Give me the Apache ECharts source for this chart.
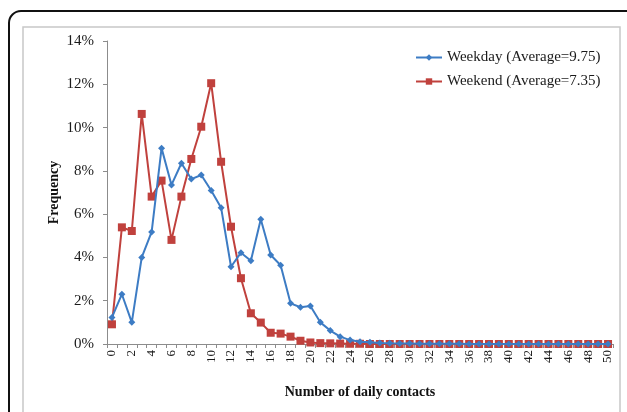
<!DOCTYPE html>
<html>
<head>
<meta charset="utf-8">
<script src="https://cdn.jsdelivr.net/npm/echarts@6/dist/echarts.min.js"></script>
<style>html,body{margin:0;padding:0;background:#fff;}#c{width:627px;height:412px;}</style>
</head>
<body>
<div id="c"></div>
<script>
const categories = Array.from({length: 51}, (_, i) => String(i));
const weekday = [1.23, 2.30, 1.00, 4.00, 5.18, 9.05, 7.35, 8.35, 7.62, 7.81, 7.09, 6.30, 3.57, 4.22, 3.85, 5.76, 4.11, 3.64, 1.88, 1.70, 1.76, 1.00, 0.62, 0.34, 0.18, 0.10, 0.08, 0.05, 0.03, 0.02, 0.02, 0.01, 0.01, 0.01, 0.01, 0.01, 0, 0, 0, 0, 0, 0, 0, 0, 0, 0, 0, 0, 0, 0, 0];
const weekend = [0.91, 5.39, 5.22, 10.63, 6.81, 7.55, 4.81, 6.81, 8.55, 10.04, 12.05, 8.42, 5.42, 3.04, 1.42, 0.99, 0.52, 0.48, 0.34, 0.15, 0.07, 0.04, 0.03, 0.02, 0.01, 0.01, 0, 0, 0, 0, 0, 0, 0, 0, 0, 0, 0, 0, 0, 0, 0, 0, 0, 0, 0, 0, 0, 0, 0, 0, 0];
const seriesNames = ['Weekday (Average=9.75)', 'Weekend (Average=7.35)'];

const serif = '"Liberation Serif", "Times New Roman", serif';
const chart = echarts.init(document.getElementById('c'));
chart.setOption({
  animation: false,
  backgroundColor: '#fff',
  graphic: [
    {type: 'rect', shape: {x: 9, y: 11, width: 700, height: 500, r: 12}, style: {fill: 'none', stroke: '#111', lineWidth: 2}, silent: true},
    {type: 'rect', shape: {x: 23, y: 27, width: 597, height: 500}, style: {fill: 'none', stroke: '#c8c8c8', lineWidth: 1.5}, silent: true}
  ],
  grid: {left: 107, right: 14, top: 41, bottom: 68},
  legend: {
    orient: 'vertical', left: 410, top: 45, itemGap: 9, itemWidth: 26, itemHeight: 8,
    textStyle: {fontFamily: serif, fontSize: 15, color: '#1a1a1a'},
    data: seriesNames
  },
  xAxis: {
    type: 'category', data: categories, boundaryGap: true,
    name: 'Number of daily contacts', nameLocation: 'middle', nameGap: 41, nameMoveOverlap: false,
    nameTextStyle: {fontFamily: serif, fontSize: 14, fontWeight: 'bold', color: '#111'},
    axisLine: {lineStyle: {color: '#8c8c8c', width: 1}},
    axisTick: {show: true, interval: 0, length: 4, lineStyle: {color: '#8c8c8c'}},
    axisLabel: {interval: 1, rotate: 90, fontFamily: serif, fontSize: 13, color: '#1a1a1a', margin: 6}
  },
  yAxis: {
    type: 'value', min: 0, max: 14, interval: 2,
    name: 'Frequency', nameLocation: 'middle', nameGap: 46, nameRotate: 90, nameMoveOverlap: false,
    nameTextStyle: {fontFamily: serif, fontSize: 14, fontWeight: 'bold', color: '#111'},
    axisLine: {show: true, lineStyle: {color: '#8c8c8c', width: 1}},
    axisTick: {show: true, length: 4, lineStyle: {color: '#8c8c8c'}},
    splitLine: {show: false},
    axisLabel: {formatter: v => v + '%', fontFamily: serif, fontSize: 15, color: '#1a1a1a', margin: 13}
  },
  series: [
    {name: seriesNames[0], type: 'line', data: weekday, symbol: 'diamond', symbolSize: 7, showAllSymbol: true,
     itemStyle: {color: '#3d7cc4'}, lineStyle: {width: 2, color: '#3d7cc4'}, z: 3},
    {name: seriesNames[1], type: 'line', data: weekend, symbol: 'rect', symbolSize: 8, showAllSymbol: true,
     itemStyle: {color: '#c0413d'}, lineStyle: {width: 2, color: '#c0413d'}, z: 2}
  ]
});
</script>
</body>
</html>
